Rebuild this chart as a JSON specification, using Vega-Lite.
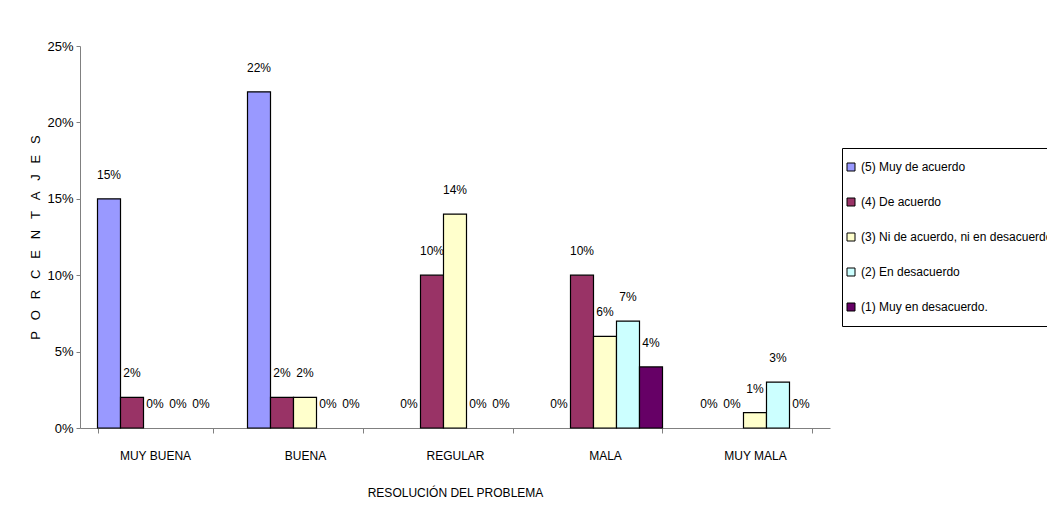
{
  "$schema": "https://vega.github.io/schema/vega-lite/v6.json",
  "width": 750,
  "height": 382,
  "autosize": {"type": "none"},
  "padding": {"left": 80, "top": 46, "right": 217, "bottom": 101},
  "background": "white",
  "config": {
    "font": "Liberation Sans",
    "view": {"stroke": null},
    "axis": {"labelFont": "Liberation Sans", "titleFont": "Liberation Sans", "labelColor": "black", "titleColor": "black", "domainColor": "#808080", "tickColor": "#808080", "grid": false, "titleFontWeight": "normal"},
    "legend": {"labelFont": "Liberation Sans"}
  },
  "data": {
    "values": [
      {"cat": "MUY BUENA", "serie": "(5) Muy de acuerdo", "v": 0.15},
      {"cat": "MUY BUENA", "serie": "(4) De acuerdo", "v": 0.02},
      {"cat": "MUY BUENA", "serie": "(3) Ni de acuerdo, ni en desacuerdo", "v": 0},
      {"cat": "MUY BUENA", "serie": "(2) En desacuerdo", "v": 0},
      {"cat": "MUY BUENA", "serie": "(1) Muy en desacuerdo.", "v": 0},
      {"cat": "BUENA", "serie": "(5) Muy de acuerdo", "v": 0.22},
      {"cat": "BUENA", "serie": "(4) De acuerdo", "v": 0.02},
      {"cat": "BUENA", "serie": "(3) Ni de acuerdo, ni en desacuerdo", "v": 0.02},
      {"cat": "BUENA", "serie": "(2) En desacuerdo", "v": 0},
      {"cat": "BUENA", "serie": "(1) Muy en desacuerdo.", "v": 0},
      {"cat": "REGULAR", "serie": "(5) Muy de acuerdo", "v": 0},
      {"cat": "REGULAR", "serie": "(4) De acuerdo", "v": 0.10},
      {"cat": "REGULAR", "serie": "(3) Ni de acuerdo, ni en desacuerdo", "v": 0.14},
      {"cat": "REGULAR", "serie": "(2) En desacuerdo", "v": 0},
      {"cat": "REGULAR", "serie": "(1) Muy en desacuerdo.", "v": 0},
      {"cat": "MALA", "serie": "(5) Muy de acuerdo", "v": 0},
      {"cat": "MALA", "serie": "(4) De acuerdo", "v": 0.10},
      {"cat": "MALA", "serie": "(3) Ni de acuerdo, ni en desacuerdo", "v": 0.06},
      {"cat": "MALA", "serie": "(2) En desacuerdo", "v": 0.07},
      {"cat": "MALA", "serie": "(1) Muy en desacuerdo.", "v": 0.04},
      {"cat": "MUY MALA", "serie": "(5) Muy de acuerdo", "v": 0},
      {"cat": "MUY MALA", "serie": "(4) De acuerdo", "v": 0},
      {"cat": "MUY MALA", "serie": "(3) Ni de acuerdo, ni en desacuerdo", "v": 0.01},
      {"cat": "MUY MALA", "serie": "(2) En desacuerdo", "v": 0.03},
      {"cat": "MUY MALA", "serie": "(1) Muy en desacuerdo.", "v": 0}
    ]
  },
  "encoding": {
    "x": {
      "field": "cat", "type": "nominal",
      "sort": ["MUY BUENA", "BUENA", "REGULAR", "MALA", "MUY MALA"],
      "scale": {"paddingInner": 0.2333, "paddingOuter": 0.1167},
      "axis": {"labelAngle": 0, "tickBand": "extent", "ticks": true, "tickSize": 5, "labelPadding": 17, "labelFontSize": 12, "title": "RESOLUCIÓN DEL PROBLEMA", "titleFontSize": 12, "titlePadding": 26}
    },
    "xOffset": {
      "field": "serie", "type": "nominal",
      "sort": ["(5) Muy de acuerdo", "(4) De acuerdo", "(3) Ni de acuerdo, ni en desacuerdo", "(2) En desacuerdo", "(1) Muy en desacuerdo."],
      "scale": {"paddingInner": 0, "paddingOuter": 0}
    },
    "y": {
      "field": "v", "type": "quantitative",
      "scale": {"domain": [0, 0.25]},
      "axis": {"format": ".0%", "values": [0, 0.05, 0.1, 0.15, 0.2, 0.25], "tickSize": 4, "labelPadding": 3, "labelFontSize": 13, "title": "P\u00a0\u00a0\u00a0O\u00a0\u00a0\u00a0R\u00a0\u00a0\u00a0C\u00a0\u00a0\u00a0E\u00a0\u00a0\u00a0N\u00a0\u00a0\u00a0T\u00a0\u00a0\u00a0A\u00a0\u00a0\u00a0J\u00a0\u00a0\u00a0E\u00a0\u00a0\u00a0S", "titleFontSize": 13, "titlePadding": 4}
    }
  },
  "layer": [
    {
      "transform": [{"filter": "datum.v > 0"}],
      "mark": {"type": "bar", "stroke": "black", "strokeWidth": 1.2},
      "encoding": {
        "color": {
          "field": "serie", "type": "nominal",
          "scale": {
            "domain": ["(5) Muy de acuerdo", "(4) De acuerdo", "(3) Ni de acuerdo, ni en desacuerdo", "(2) En desacuerdo", "(1) Muy en desacuerdo."],
            "range": ["#9999FF", "#993366", "#FFFFCC", "#CCFFFF", "#660066"]
          },
          "legend": {
            "title": null, "orient": "none", "legendX": 762, "legendY": 102,
            "symbolType": "square", "symbolSize": 64, "symbolStrokeColor": "black", "symbolStrokeWidth": 1,
            "symbolOffset": -10, "labelOffset": 4,
            "labelFontSize": 12, "labelColor": "black", "rowPadding": 23, "padding": 13,
            "strokeColor": "black", "fillColor": "white", "labelLimit": 400
          }
        }
      }
    },
    {
      "mark": {"type": "text", "baseline": "middle", "dy": -24, "fontSize": 12, "color": "black"},
      "encoding": {
        "text": {"field": "v", "type": "quantitative", "format": ".0%"}
      }
    }
  ]
}
